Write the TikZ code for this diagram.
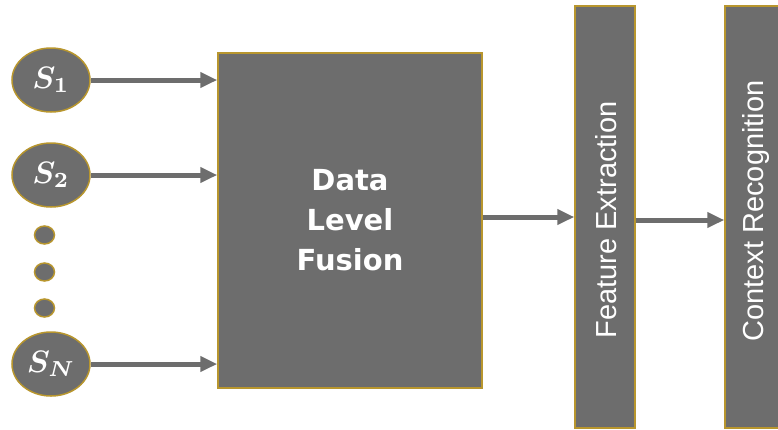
\documentclass[tikz,border=0pt]{standalone}
\usepackage{fontspec}
\usepackage{amsmath}
\setmainfont{Liberation Sans}
\newfontfamily\boldfont{DejaVu Sans}
\usetikzlibrary{shapes.geometric, arrows.meta, positioning, calc}
\definecolor{boxgray}{RGB}{109,109,109}
\definecolor{rim}{RGB}{184,150,46}
\newcommand{\sname}[1]{\scalebox{3.1}{\boldmath$S_{#1}$}}

\begin{document}
\begin{tikzpicture}[x=1pt, y=-1pt,
  sensor/.style={ellipse, draw=rim, fill=boxgray, line width=1.5pt,
                 minimum width=78pt, minimum height=64pt, inner sep=0pt,
                 text=white},
  dot/.style={ellipse, draw=rim, fill=boxgray, line width=1.5pt,
              minimum width=20pt, minimum height=18pt, inner sep=0pt},
  stage/.style={rectangle, draw=rim, fill=boxgray, line width=1.5pt,
                inner sep=0pt, text=white, align=center},
  arr/.style={-{Triangle[length=17pt,width=15pt]}, line width=5pt, boxgray}
]
\useasboundingbox (0,0) rectangle (778,429);

% sensors on the left
\node[sensor] (s1) at (51,80)  {\sname{1}};
\node[sensor] (s2) at (51,175) {\sname{2}};
\node[dot] (d1) at (44.5,235) {};
\node[dot] (d2) at (44.5,272) {};
\node[dot] (d3) at (44.5,308) {};
\node[sensor] (sn) at (51,364) {\sname{N}};

% processing stages
\node[stage, minimum width=264pt, minimum height=335pt,
      font=\boldfont\bfseries\fontsize{29}{40}\selectfont] (fusion) at (350,220.5)
      {Data\\Level\\Fusion};
\node[stage, minimum width=60pt, minimum height=422pt] (feat) at (605,217) {};
\node[stage, minimum width=60pt, minimum height=422pt] (ctx)  at (755,217) {};
\node[rotate=90, text=white, font=\fontsize{29}{34}\selectfont] (feattxt) at (606,220)
      {Feature Extraction};
\node[rotate=90, text=white, font=\fontsize{29}{34}\selectfont] (ctxtxt) at (756,211)
      {Context Recognition};

\draw[arr] (s1.east) -- (s1.east -| fusion.west);
\draw[arr] (s2.east) -- (s2.east -| fusion.west);
\draw[arr] (sn.east) -- (sn.east -| fusion.west);
\draw[arr] (fusion.east |- 0,217) -- (feat.west |- 0,217);
\draw[arr] (feat.east |- 0,220) -- (ctx.west |- 0,220);
\end{tikzpicture}
\end{document}
